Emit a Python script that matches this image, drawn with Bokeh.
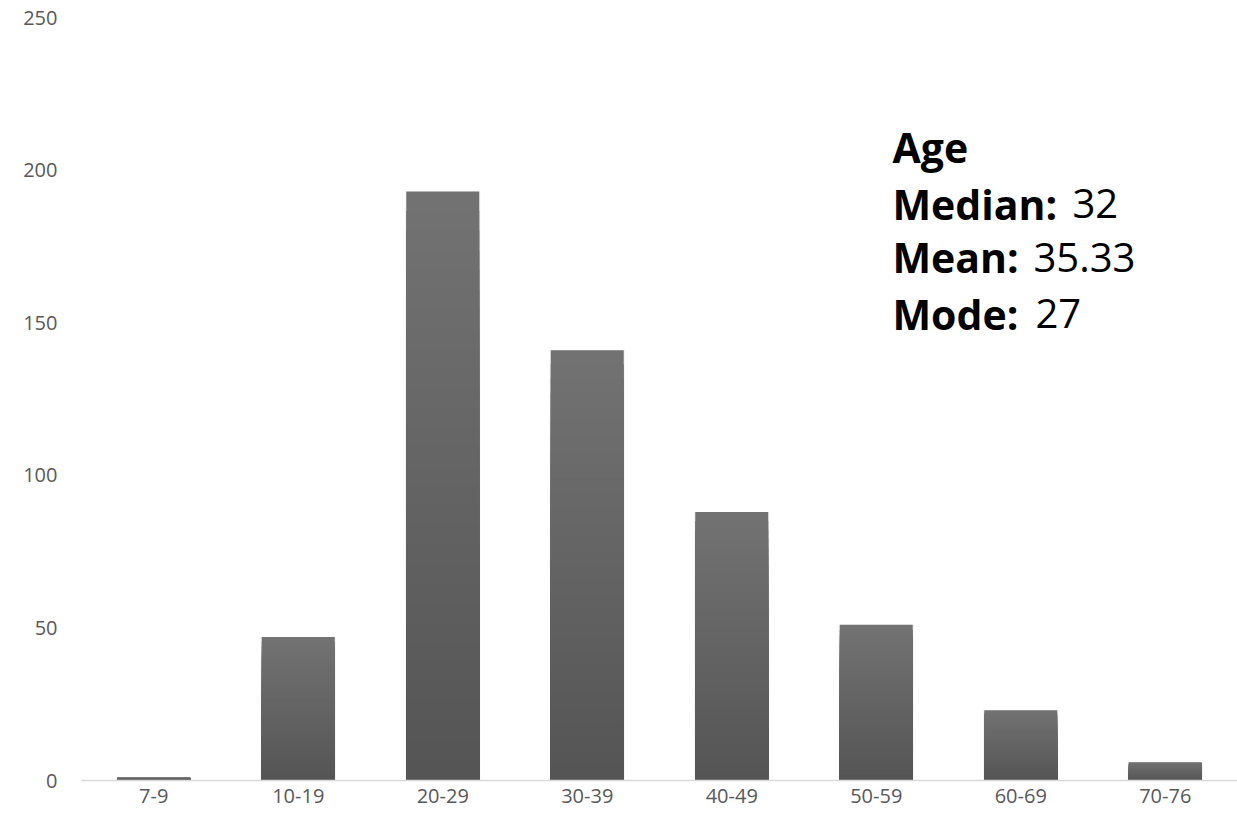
from bokeh.plotting import figure
from bokeh.models import Label, FixedTicker, Range1d, FactorRange
from bokeh.embed import file_html
from bokeh.resources import INLINE

categories = ["7-9", "10-19", "20-29", "30-39", "40-49", "50-59", "60-69", "70-76"]
counts = [1, 47, 193, 141, 88, 51, 23, 6]
y_ticks = [0, 50, 100, 150, 200, 250]
stats_title = "Age"
stats_names = ["Median:", "Mean:", "Mode:"]
stats_values = ["32", "35.33", "27"]

p = figure(width=1237, height=825, x_range=FactorRange(*categories, range_padding=0),
           y_range=Range1d(0, 250), output_backend="svg", toolbar_location=None,
           min_border_left=81, min_border_right=0, min_border_top=17, min_border_bottom=45)
p.outline_line_color = None
p.background_fill_color = "white"
p.border_fill_color = "white"
p.xgrid.visible = False
p.ygrid.visible = False

# gradient bars: layered from full height (light) down to short (dark)
N = 30
top_c = (0x72, 0x72, 0x72)
bot_c = (0x55, 0x55, 0x55)
for i in range(N):
    frac = 1 - i / N
    t = (i + 0.5) / N
    c = tuple(int(round(top_c[k] + (bot_c[k] - top_c[k]) * t)) for k in range(3))
    col = "#%02x%02x%02x" % c
    tops = [v * frac for v in counts]
    if i == 0:
        p.vbar(x=categories, top=tops, bottom=0, width=0.52, fill_color="#000000",
               fill_alpha=0.05, line_color=None)
    p.vbar(x=categories, top=tops, bottom=0, width=0.505, fill_color=col,
           line_color=None)

font = "Open Sans"
p.yaxis.ticker = FixedTicker(ticks=y_ticks)
p.yaxis.axis_line_color = None
p.yaxis.major_tick_line_color = None
p.yaxis.minor_tick_line_color = None
p.yaxis.major_label_text_font = font
p.yaxis.major_label_text_font_size = "20px"
p.yaxis.major_label_text_color = "#595959"
p.yaxis.major_label_standoff = 18

p.xaxis.axis_line_color = "#d9d9d9"
p.xaxis.axis_line_width = 1.5
p.xaxis.major_tick_line_color = None
p.xaxis.minor_tick_line_color = None
p.xaxis.major_label_text_font = font
p.xaxis.major_label_text_font_size = "20px"
p.xaxis.major_label_text_color = "#595959"
p.xaxis.major_label_standoff = 2

# annotation block
x_bold = 5.612
x_vals = [6.858, 6.588, 6.602]
y_base = [207.5, 189.0, 171.5, 153.0]
p.add_layout(Label(x=x_bold, y=y_base[0], text=stats_title, text_font=font,
                   text_font_size="41px", text_font_style="bold", text_color="black",
                   text_baseline="alphabetic"))
for j in range(3):
    p.add_layout(Label(x=x_bold, y=y_base[j + 1], text=stats_names[j], text_font=font,
                       text_font_size="41px", text_font_style="bold", text_color="black",
                       text_baseline="alphabetic"))
    p.add_layout(Label(x=x_vals[j], y=y_base[j + 1], text=stats_values[j], text_font=font,
                       text_font_size="40px", text_color="black",
                       text_baseline="alphabetic"))

open("out.html", "w").write(file_html(p, INLINE))
